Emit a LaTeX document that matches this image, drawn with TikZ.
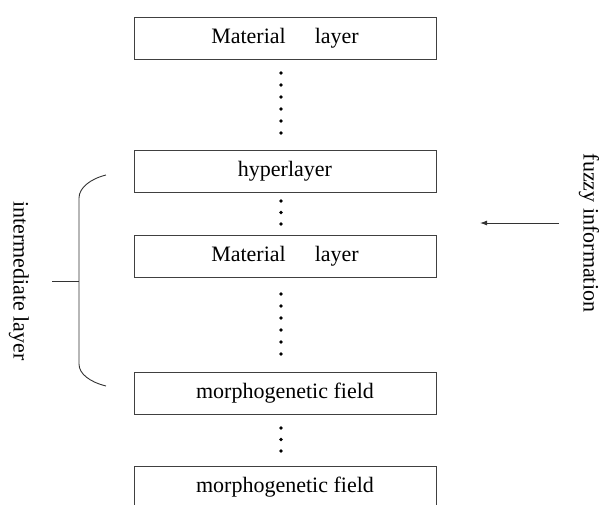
\documentclass[tikz,border=0pt]{standalone}
\usepackage{fontspec}
\setmainfont{Liberation Serif}
\usetikzlibrary{arrows.meta}
\begin{document}
\begin{tikzpicture}[x=1pt,y=-1pt,
  layerbox/.style={draw=black!75,line width=0.9pt,minimum width=302pt,minimum height=42pt,inner sep=0pt,font=\fontsize{22}{24}\selectfont},
  sidetext/.style={rotate=-90,inner sep=0pt,font=\fontsize{22}{24}\selectfont},
  dotmark/.style={circle,fill=black,inner sep=0pt,minimum size=3.6pt},
  conn/.style={draw=black!80,line width=0.9pt}]
\useasboundingbox (0,0) rectangle (600,504);
\node[layerbox] (b1) at (285,38) {Material\hspace{29pt}layer};
\node[layerbox] (b2) at (285,171) {hyperlayer};
\node[layerbox] (b3) at (285,256) {Material\hspace{29pt}layer};
\node[layerbox] (b4) at (285,393.5) {morphogenetic field};
\node[layerbox] (b5) at (285,487) {morphogenetic field};
% dots
\foreach \y [count=\i] in {73,85,97,109,121,133} \node[dotmark] (da\i) at (281,\y) {};
\foreach \y [count=\i] in {201,212.5,224} \node[dotmark] (db\i) at (281,\y) {};
\foreach \y [count=\i] in {294,306,318,330,342,354} \node[dotmark] (dc\i) at (281,\y) {};
\foreach \y [count=\i] in {428,439.5,451} \node[dotmark] (dd\i) at (281,\y) {};
% brace
\coordinate (bt) at (106,175);
\coordinate (bb) at (106,386);
\coordinate (bm) at (79,281);
\coordinate (tick) at (52,281);
\draw[conn] (bt) .. controls (90,179) and (79,188) .. (79,198) -- (79,364) .. controls (79,374) and (90,382) .. (bb);
\draw[conn] (tick) -- (bm);
\node[sidetext] (il) at (19,281) {intermediate layer};
% fuzzy information
\node[sidetext] (fi) at (589,233) {fuzzy information};
\coordinate (as) at (559,223);
\coordinate (ae) at (480,223);
\draw[conn,-{Latex[length=7pt,width=5pt]}] (as) -- (ae);
\end{tikzpicture}
\end{document}
